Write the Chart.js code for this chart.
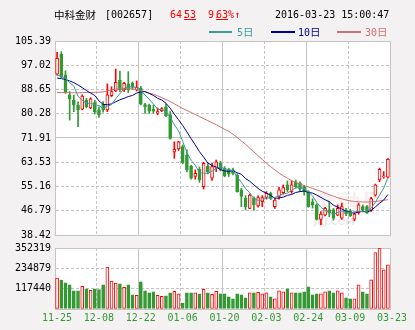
<!DOCTYPE html>
<html>
<head>
<meta charset="utf-8">
<script src="https://cdn.jsdelivr.net/npm/chart.js@4.4.0/dist/chart.umd.min.js"></script>
<style>
  html, body { margin: 0; padding: 0; background: #f3f1f1; }
  #wrap { position: relative; width: 415px; height: 330px; overflow: hidden; }
  #wrap canvas { position: absolute; left: 0; top: 0; }
  .t { position: absolute; white-space: nowrap; font-family: "DejaVu Sans Mono", "Noto Sans CJK SC", monospace; font-size: 10px; line-height: 12px; color: #000; }
  .cjk { font-family: "Noto Sans CJK SC", sans-serif; font-size: 10.5px; }
  .dot { letter-spacing: -4px; }
  .sw { position: absolute; height: 2px; }
</style>
</head>
<body>
<div id="wrap">
  <canvas id="price" width="415" height="330"></canvas>
  <canvas id="vol" width="415" height="330"></canvas>

  <div class="t" style="left:54px;top:9px;"><span class="cjk">中科金财</span></div>
  <div class="t" style="left:105px;top:9px;">[002657]</div>
  <div class="t" style="left:170px;top:9px;color:#ff0000;">64<span class="dot">.</span><u>53</u></div>
  <div class="t" style="left:208px;top:9px;color:#ff0000;">9<span class="dot">.</span><u>63</u>%↑</div>
  <div class="t" style="left:275px;top:9px;">2016-03-23 15:00:47</div>

  <div class="sw" style="left:209px;top:31px;width:23px;background:#3a9b98;"></div>
  <div class="t" style="left:237px;top:26px;color:#3a9b98;">5<span class="cjk">日</span></div>
  <div class="sw" style="left:271px;top:31px;width:24px;background:#000099;"></div>
  <div class="t" style="left:298px;top:26px;color:#000099;">10<span class="cjk">日</span></div>
  <div class="sw" style="left:337px;top:31px;width:24px;background:#d07070;"></div>
  <div class="t" style="left:365px;top:26px;color:#d07070;">30<span class="cjk">日</span></div>
</div>

<script>
// Trading days, 2015-11-25 .. 2016-03-23
const dates = [
  '11-25','11-26','11-27','11-30',
  '12-01','12-02','12-03','12-04','12-07','12-08','12-09','12-10','12-11','12-14','12-15','12-16','12-17','12-18','12-21','12-22','12-23','12-24','12-25','12-28','12-29','12-30','12-31',
  '01-04','01-05','01-06','01-07','01-08','01-11','01-12','01-13','01-14','01-15','01-18','01-19','01-20','01-21','01-22','01-25','01-26','01-27','01-28','01-29',
  '02-01','02-02','02-03','02-04','02-05','02-15','02-16','02-17','02-18','02-19','02-22','02-23','02-24','02-25','02-26','02-29',
  '03-01','03-02','03-03','03-04','03-07','03-08','03-09','03-10','03-11','03-14','03-15','03-16','03-17','03-18','03-21','03-22','03-23'
];

// Daily prices
const open = [
  93.9,100.9,93.7,86.8,85.0,83.3,81.9,85.0,82.3,84.1,
  81.6,83.5,81.6,86.5,88.2,91.9,88.5,90.5,90.8,88.5,
  89.1,83.4,83.3,81.9,80.5,81.3,82.7,79.9,67.1,68.1,
  68.9,66.0,62.2,58.6,61.1,55.1,62.2,58.0,61.5,63.2,
  61.4,60.9,60.9,59.1,54.0,51.1,47.6,51.1,48.5,49.9,
  51.4,52.8,48.2,51.7,53.0,55.7,53.4,56.8,56.3,55.1,
  53.4,49.9,48.8,43.8,45.3,47.1,47.1,45.3,44.2,47.1,
  46.7,43.9,46.1,48.2,48.2,47.0,52.2,57.4,58.5,58.4
];
const high = [
  101.5,101.7,95.1,87.9,86.7,84.4,86.8,85.6,85.8,85.0,
  82.7,84.5,90.6,89.6,95.7,95.0,91.1,94.8,91.3,91.6,
  89.7,83.9,83.6,83.3,82.3,82.4,83.6,81.0,70.6,70.8,
  69.5,67.8,62.5,60.9,61.9,63.5,63.1,63.2,64.3,63.9,
  62.0,61.4,61.5,59.5,54.5,52.0,52.6,51.6,51.9,52.0,
  53.4,53.2,51.0,54.9,55.7,57.1,57.1,57.4,56.8,55.6,
  53.7,50.9,49.2,46.5,48.0,49.9,47.6,48.8,49.4,47.6,
  47.3,46.1,49.4,48.8,48.6,51.4,56.0,61.5,60.3,64.8
];
const low = [
  93.6,92.7,87.3,78.1,81.0,75.8,81.6,82.3,82.0,80.2,
  79.0,80.8,81.0,86.2,87.9,87.9,87.9,87.6,88.7,88.1,
  83.3,80.4,80.4,80.4,79.9,81.0,79.3,71.5,64.9,67.6,
  63.0,60.2,57.7,57.7,56.6,54.3,59.5,57.3,60.3,60.5,
  58.5,58.6,59.2,53.2,48.2,47.1,47.5,47.0,48.0,48.2,
  50.8,50.6,47.6,50.8,52.5,53.4,52.8,54.6,53.4,52.2,
  48.0,47.7,43.6,41.9,45.0,44.7,43.6,45.1,43.8,45.1,
  44.8,43.3,45.6,46.8,45.9,46.6,51.8,56.8,58.0,58.1
];
const close = [
  99.4,93.1,87.9,85.4,83.3,81.6,86.4,82.7,85.4,81.0,
  79.9,81.6,86.8,87.9,91.1,88.5,90.8,88.5,89.4,89.4,
  83.6,82.7,81.2,81.2,81.0,82.1,79.6,71.8,68.0,70.6,
  63.4,60.9,58.0,59.7,57.4,63.2,60.3,62.0,63.7,61.1,
  58.9,59.5,59.7,53.4,51.7,48.2,52.2,48.8,51.3,51.3,
  52.8,51.1,50.5,54.0,54.8,54.0,55.7,55.1,54.2,53.4,
  48.2,48.8,43.8,45.6,47.6,46.1,44.2,47.6,48.2,45.7,
  45.0,45.6,48.8,47.1,46.1,51.0,55.7,61.1,58.86,64.53
];

// Moving averages
const ma5 = [
  93.7,93.2,92.4,91.0,89.8,86.3,84.9,83.9,83.9,83.4,
  83.1,82.1,82.9,83.4,85.5,87.2,89.0,89.4,89.7,89.3,
  88.3,86.7,85.3,83.6,81.9,81.6,81.0,79.1,76.5,74.4,
  70.7,66.9,64.2,62.5,59.9,59.8,59.7,60.5,61.3,62.1,
  61.2,61.0,60.6,58.5,56.6,54.5,53.0,50.9,50.4,50.4,
  51.3,51.1,51.4,51.9,52.6,52.9,53.8,54.7,54.8,54.5,
  53.3,51.9,49.7,48.0,46.8,46.4,45.5,46.2,46.7,46.4,
  46.1,46.4,46.7,46.4,46.5,47.7,49.7,52.2,54.6,58.2
];
const ma10 = [
  92.6,92.4,92.1,91.6,91.0,90.2,89.3,88.3,87.4,86.6,
  84.7,83.5,83.4,83.7,84.4,85.1,85.6,86.2,86.6,87.4,
  87.8,87.9,87.3,86.6,85.6,85.0,83.9,82.2,80.1,78.2,
  76.2,74.0,71.7,69.5,67.2,65.3,63.3,62.4,61.9,61.0,
  60.5,60.4,60.6,59.9,59.4,57.9,57.0,55.7,54.5,53.5,
  52.9,52.1,51.1,51.2,51.5,52.1,52.4,53.1,53.4,53.6,
  53.1,52.9,52.2,51.4,50.6,49.9,48.7,48.0,47.4,46.6,
  46.3,45.9,46.4,46.6,46.4,46.9,48.1,49.4,50.5,52.4
];
const ma30 = [
  87.6,87.6,87.6,87.5,87.5,87.5,87.6,87.6,87.6,87.7,
  87.7,87.8,88.2,88.5,88.8,88.9,89.0,89.0,88.8,88.6,
  88.3,87.9,87.4,87.0,86.5,85.8,85.2,84.5,83.7,82.9,
  82.1,81.4,80.7,80.0,79.3,78.6,77.9,77.2,76.5,75.7,
  74.9,74.2,73.2,72.1,70.9,69.7,68.4,67.1,65.8,64.5,
  63.2,62.0,60.9,59.8,58.9,58.0,57.2,56.6,56.0,55.5,
  55.0,54.5,54.0,53.5,52.9,52.3,51.8,51.3,50.9,50.5,
  50.2,50.0,49.9,49.8,49.8,49.9,50.0,50.2,50.4,50.6
];

// Daily volume
const volume = [
  178100,166500,151000,139400,104500,104500,131600,116100,108400,116100,
  112300,139400,242000,160700,149100,145200,125800,139400,81300,79400,
  156800,104500,92900,98700,79400,73600,75500,92900,102600,87100,
  34800,92900,92900,92900,87100,114200,92900,85200,102600,87100,
  87100,69700,58100,87100,81300,63900,92900,92900,96800,87100,
  92900,69700,58100,104500,98700,116100,92900,92900,92900,98700,
  127800,81300,87100,87100,98700,104500,92900,104500,92900,63900,
  58100,58100,139400,98700,87100,168400,325200,352319,226500,255500
];

// Axis ticks
const priceTicks = [38.42, 46.79, 55.16, 63.53, 71.91, 80.28, 88.65, 97.02, 105.39];
const volumeTicks = [0, 117440, 234879, 352319];

const UP = '#ff0000';
const DOWN = '#339933';
const GRID = '#c4c4c4';
const TICK_FONT = { family: 'DejaVu Sans Mono', size: 10 };

const n = dates.length;
const isUp = close.map((c, i) => c >= open[i]);
const xTickValues = Array.from({ length: 9 }, (_, k) => k * 10 - 0.5);

const plotBg = {
  id: 'plotBg',
  beforeDraw(chart) {
    const { ctx, chartArea: a } = chart;
    ctx.save();
    ctx.fillStyle = '#ffffff';
    ctx.fillRect(a.left, a.top, a.right - a.left, a.bottom - a.top);
    ctx.restore();
  }
};

const watermark = {
  id: 'watermark',
  beforeDatasetsDraw(chart) {
    const { ctx } = chart;
    ctx.save();
    ctx.fillStyle = 'rgba(200,130,130,0.13)';
    ctx.font = 'bold 25px "Noto Sans CJK SC"';
    ctx.textBaseline = 'alphabetic';
    ctx.fillText('金融界', 311, 213);
    ctx.fillStyle = 'rgba(150,150,150,0.22)';
    ctx.font = 'bold 9px "DejaVu Sans"';
    ctx.fillText('JRJ.COM', 314, 225);
    ctx.restore();
  }
};

function xScale(showLabels) {
  return {
    type: 'linear',
    offset: false,
    min: -0.5,
    max: n - 0.5,
    afterBuildTicks: s => { s.ticks = xTickValues.map(v => ({ value: v })); },
    afterFit: s => { s.height = showLabels ? 21 : 0; },
    grid: { offset: false, color: GRID, lineWidth: 1, drawTicks: false },
    border: { color: GRID, width: 1, dash: ctx => (ctx.index % 2 === 1 ? [3, 2] : []) },
    ticks: {
      display: showLabels,
      autoSkip: false,
      maxRotation: 0,
      padding: 3,
      labelOffset: 2,
      color: DOWN,
      font: TICK_FONT,
      callback: v => dates[Math.max(0, Math.round(v - 0.5))]
    }
  };
}

const pts = arr => arr.map((v, i) => ({ x: i, y: v }));
const maLine = (arr, color) => ({
  type: 'line',
  data: pts(arr),
  borderColor: color,
  borderWidth: 1,
  pointRadius: 0,
  tension: 0,
  fill: false,
  order: 0
});

new Chart(document.getElementById('price'), {
  type: 'bar',
  data: {
    datasets: [
      maLine(ma5, '#3a9b98'),
      maLine(ma10, '#000099'),
      maLine(ma30, '#d07070'),
      {
        data: open.map((o, i) => ({ x: i, y: [o, close[i]] })),
        grouped: false,
        barThickness: 3,
        minBarLength: 1,
        borderWidth: 1,
        borderSkipped: false,
        backgroundColor: ctx => (isUp[ctx.dataIndex] ? '#ffffff' : DOWN),
        borderColor: ctx => (isUp[ctx.dataIndex] ? UP : DOWN),
        order: 1
      },
      {
        data: low.map((l, i) => ({ x: i, y: [l, high[i]] })),
        grouped: false,
        barThickness: 1,
        borderWidth: 0,
        backgroundColor: ctx => (isUp[ctx.dataIndex] ? UP : DOWN),
        order: 2
      }
    ]
  },
  options: {
    responsive: false,
    animation: false,
    devicePixelRatio: 1,
    layout: { padding: { top: 41, right: 25, bottom: 95, left: 0 } },
    plugins: { legend: { display: false }, tooltip: { enabled: false } },
    scales: {
      x: xScale(false),
      y: {
        type: 'linear',
        min: priceTicks[0],
        max: priceTicks[priceTicks.length - 1],
        afterBuildTicks: s => { s.ticks = priceTicks.map(v => ({ value: v })); },
        afterFit: s => { s.width = 55; },
        grid: { color: GRID, lineWidth: 1, drawTicks: false },
        border: { color: GRID, width: 1, dash: ctx => ([0, 4, 8].includes(ctx.index) ? [] : [3, 2]) },
        ticks: { autoSkip: false, padding: 4, color: '#000', font: TICK_FONT, callback: v => v.toFixed(2) }
      }
    }
  },
  plugins: [plotBg, watermark]
});

new Chart(document.getElementById('vol'), {
  type: 'bar',
  data: {
    datasets: [{
      data: volume.map((v, i) => ({ x: i, y: v })),
      barThickness: 3,
      borderWidth: 1,
      borderSkipped: false,
      backgroundColor: ctx => (isUp[ctx.dataIndex] ? '#ffffff' : DOWN),
      borderColor: ctx => (isUp[ctx.dataIndex] ? UP : DOWN)
    }]
  },
  options: {
    responsive: false,
    animation: false,
    devicePixelRatio: 1,
    layout: { padding: { top: 248, right: 25, bottom: 0, left: 0 } },
    plugins: { legend: { display: false }, tooltip: { enabled: false } },
    scales: {
      x: xScale(true),
      y: {
        type: 'linear',
        min: 0,
        max: volumeTicks[volumeTicks.length - 1],
        afterBuildTicks: s => { s.ticks = volumeTicks.map(v => ({ value: v })); },
        afterFit: s => { s.width = 55; },
        grid: { color: GRID, lineWidth: 1, drawTicks: false },
        border: { color: GRID, width: 1, dash: ctx => ((ctx.index === 0 || ctx.index === volumeTicks.length - 1) ? [] : [3, 2]) },
        ticks: { autoSkip: false, padding: 4, color: '#000', font: TICK_FONT, callback: v => (v === 0 ? '' : String(v)) }
      }
    }
  },
  plugins: [plotBg]
});
</script>
</body>
</html>
